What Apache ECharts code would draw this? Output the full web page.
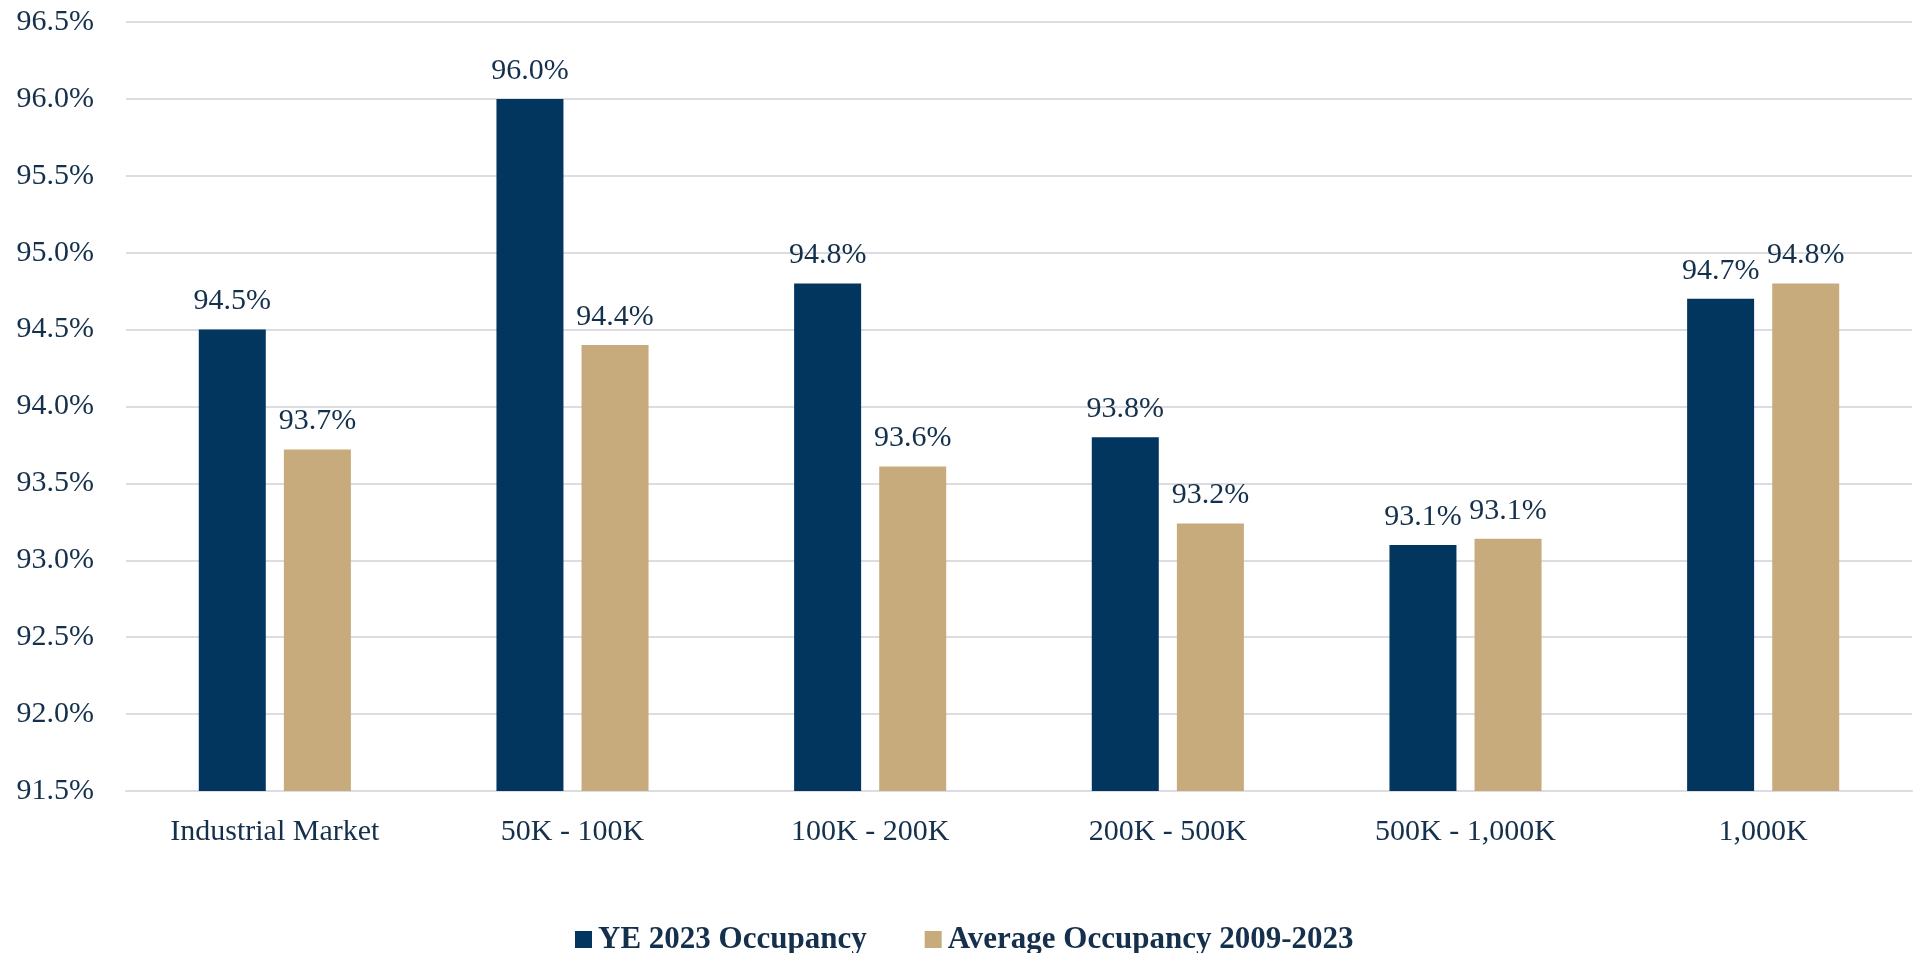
<!DOCTYPE html>
<html>
<head>
<meta charset="utf-8">
<title>Industrial Occupancy by Building Size</title>
<script src="https://cdn.jsdelivr.net/npm/echarts@6/dist/echarts.min.js"></script>
<style>
  html, body { margin: 0; padding: 0; background: #ffffff; }
  #chart { width: 1915px; height: 953px; }
</style>
</head>
<body>
<div id="chart"></div>
<script>
// Size segments (sq ft) along the x axis
const categories = ['Industrial Market', '50K - 100K', '100K - 200K', '200K - 500K', '500K - 1,000K', '1,000K'];

// Occupancy rates, percent
const ye2023 = [94.50, 96.00, 94.80, 93.80, 93.10, 94.70];
const avg2009to2023 = [93.72, 94.40, 93.61, 93.24, 93.14, 94.80];

const seriesNames = ['YE 2023 Occupancy', 'Average Occupancy 2009-2023'];

// Value axis range, percent
const yMin = 91.5;
const yMax = 96.5;
const yStep = 0.5;

const NAVY = '#02365f';
const TAN = '#c7ab7d';
const TEXT = '#14304c';
const GRID = '#dcdce2';
const FONT = '"Liberation Serif", "DejaVu Serif", serif';

const chart = echarts.init(document.getElementById('chart'));

const labelStyle = {
  show: true,
  position: 'top',
  distance: 13,
  color: TEXT,
  fontFamily: FONT,
  fontSize: 30,
  formatter: p => p.value.toFixed(1) + '%'
};

chart.setOption({
  backgroundColor: '#ffffff',
  animation: false,
  grid: { left: 126, right: 3, top: 22, bottom: 162, containLabel: false },
  legend: {
    left: 570,
    top: 919,
    itemWidth: 17,
    itemHeight: 17,
    itemGap: 58,
    icon: 'rect',
    textStyle: { color: TEXT, fontFamily: FONT, fontWeight: 'bold', fontSize: 31, padding: [0, 0, 0, 1] },
    data: seriesNames
  },
  xAxis: {
    type: 'category',
    data: categories,
    axisLine: { show: true, lineStyle: { color: GRID, width: 2 } },
    axisTick: { show: false },
    axisLabel: { color: TEXT, fontFamily: FONT, fontSize: 30, margin: 26 }
  },
  yAxis: {
    type: 'value',
    min: yMin,
    max: yMax,
    interval: yStep,
    axisLine: { show: false },
    axisTick: { show: false },
    splitLine: { lineStyle: { color: GRID, width: 2 } },
    axisLabel: {
      color: TEXT,
      fontFamily: FONT,
      fontSize: 30,
      margin: 32,
      formatter: v => v.toFixed(1) + '%'
    }
  },
  series: [
    {
      name: seriesNames[0],
      type: 'bar',
      data: ye2023,
      barWidth: 67,
      barGap: '27%',
      itemStyle: { color: NAVY },
      label: labelStyle
    },
    {
      name: seriesNames[1],
      type: 'bar',
      data: avg2009to2023,
      barWidth: 67,
      itemStyle: { color: TAN },
      label: labelStyle
    }
  ]
});
</script>
</body>
</html>
